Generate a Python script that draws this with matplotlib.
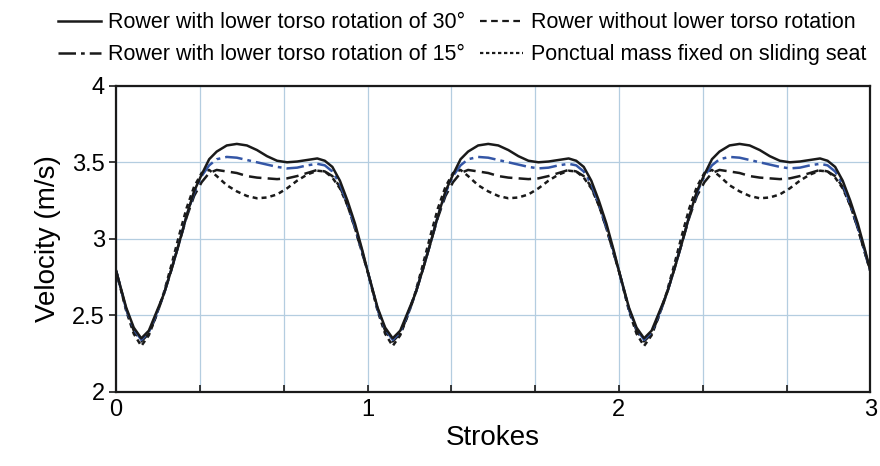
import matplotlib
matplotlib.use('Agg')
import matplotlib.pyplot as plt
import numpy as np
from matplotlib.lines import Line2D

# one stroke (the three strokes are identical)
x_stroke = [0, 0.04, 0.07, 0.10, 0.13, 0.16, 0.19, 0.22, 0.25, 0.28, 0.31,
            0.34, 0.37, 0.40, 0.44, 0.48, 0.52, 0.56, 0.60, 0.64, 0.68, 0.72,
            0.76, 0.80, 0.83, 0.86, 0.89, 0.92, 0.95, 0.98, 1.0]
v_rot30 = [2.79, 2.55, 2.42, 2.35, 2.40, 2.52, 2.64, 2.80, 2.97, 3.15, 3.31,
           3.42, 3.52, 3.57, 3.61, 3.62, 3.61, 3.58, 3.54, 3.51, 3.50, 3.505,
           3.515, 3.525, 3.51, 3.47, 3.38, 3.25, 3.10, 2.92, 2.79]
v_rot15 = [2.79, 2.54, 2.41, 2.34, 2.39, 2.51, 2.64, 2.80, 2.97, 3.15, 3.30,
           3.41, 3.48, 3.52, 3.535, 3.53, 3.515, 3.50, 3.485, 3.47, 3.46, 3.465,
           3.48, 3.49, 3.48, 3.44, 3.36, 3.23, 3.08, 2.91, 2.79]
v_norot = [2.79, 2.54, 2.40, 2.33, 2.38, 2.50, 2.64, 2.80, 2.97, 3.14, 3.28,
           3.37, 3.43, 3.45, 3.44, 3.43, 3.41, 3.40, 3.395, 3.39, 3.395, 3.41,
           3.43, 3.45, 3.44, 3.41, 3.34, 3.22, 3.07, 2.90, 2.79]
v_mass = [2.79, 2.53, 2.38, 2.30, 2.37, 2.50, 2.65, 2.83, 3.02, 3.20, 3.34,
          3.43, 3.45, 3.41, 3.35, 3.31, 3.28, 3.265, 3.27, 3.29, 3.33, 3.38,
          3.42, 3.445, 3.44, 3.40, 3.33, 3.22, 3.07, 2.90, 2.79]
n_strokes = 3

labels = ['Rower with lower torso rotation of 30\u00b0',
          'Rower with lower torso rotation of 15\u00b0',
          'Rower without lower torso rotation',
          'Ponctual mass fixed on sliding seat']


def repeat(xs, ys):
    xx, yy = [], []
    for k in range(n_strokes):
        start = 0 if k == 0 else 1
        xx += [x + k for x in xs[start:]]
        yy += ys[start:]
    return xx, yy


plt.rcParams['font.family'] = ['Liberation Sans', 'DejaVu Sans']

fig = plt.figure(figsize=(8.8, 4.66), dpi=100)
ax = fig.add_axes([0.132, 0.159, 0.857, 0.657])

black = '#1a1a1a'
blue = '#3456a6'
gridc = '#b4cde0'
lw = 1.8
x, y = repeat(x_stroke, v_mass)
ax.plot(x, y, color=black, lw=lw, ls=(0, (2, 1.6)))
x, y = repeat(x_stroke, v_norot)
ax.plot(x, y, color=black, lw=lw, ls=(0, (5, 2.5)))
x, y = repeat(x_stroke, v_rot15)
ax.plot(x, y, color=blue, lw=lw, ls=(0, (7, 2, 1.5, 2)))
x, y = repeat(x_stroke, v_rot30)
ax.plot(x, y, color=black, lw=lw)

ax.set_xlim(0, 3)
ax.set_ylim(2, 4)
ax.set_xticks([0, 1, 2, 3])
ax.set_xticks(np.arange(0, 3.01, 1 / 3), minor=True)
ax.set_yticks([2, 2.5, 3, 3.5, 4])
ax.set_yticklabels(['2', '2.5', '3', '3.5', '4'])
ax.grid(True, which='both', axis='x', color=gridc, lw=0.9)
ax.grid(True, which='major', axis='y', color=gridc, lw=0.9)
ax.set_axisbelow(True)
ax.tick_params(axis='x', which='both', direction='in', length=5, width=1.2,
               labelsize=17, pad=5, color=black)
ax.tick_params(axis='y', direction='out', length=5, width=1.2,
               labelsize=17, pad=3, color=black)
for s in ax.spines.values():
    s.set_linewidth(1.6)
    s.set_color(black)

ax.set_xlabel('Strokes', fontsize=20, labelpad=3)
ax.set_ylabel('Velocity (m/s)', fontsize=20, labelpad=8)

handles = [Line2D([], [], color=black, lw=1.8),
           Line2D([], [], color=black, lw=1.8, ls=(0, (7, 2, 1.5, 2))),
           Line2D([], [], color=black, lw=1.6, ls=(0, (3, 2))),
           Line2D([], [], color=black, lw=1.6, ls=(0, (1.5, 1.2)))]
fig.legend(handles, labels, loc='upper center', bbox_to_anchor=(0.525, 1.015),
           ncol=2, frameon=False, fontsize=15.5, handlelength=2.0,
           handletextpad=0.35, columnspacing=0.7, labelspacing=0.5)

fig.savefig('out.png', dpi=100)
